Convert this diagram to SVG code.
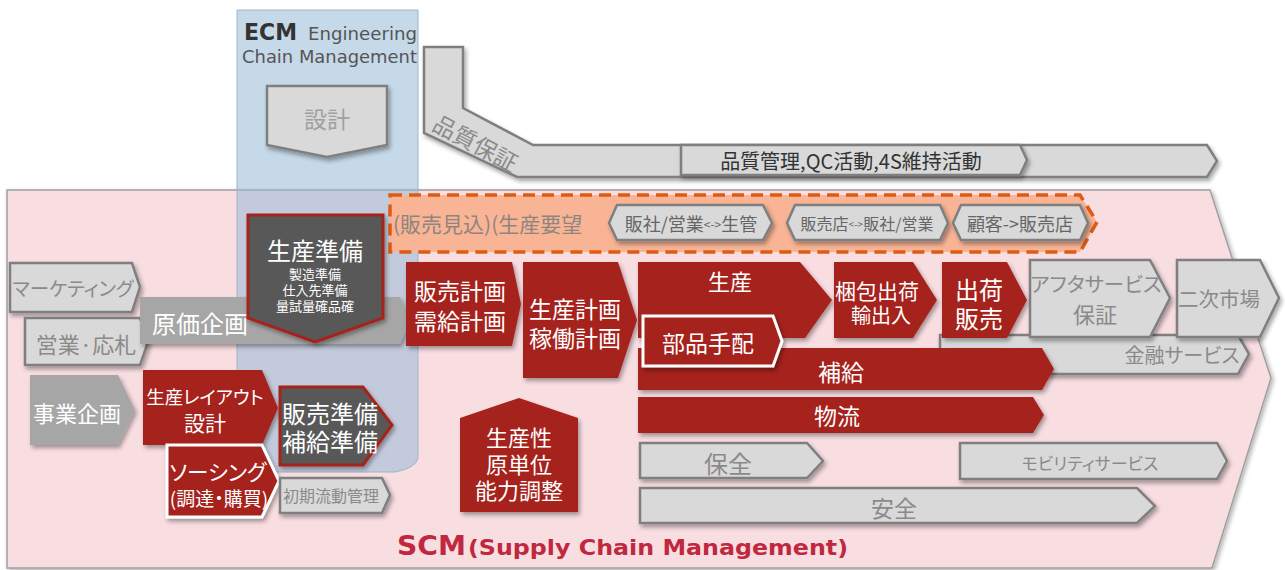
<svg xmlns="http://www.w3.org/2000/svg" width="1285" height="570" viewBox="0 0 1285 570">
<defs>
<filter id="sh" x="-10%" y="-20%" width="130%" height="150%"><feDropShadow dx="2" dy="3" stdDeviation="2" flood-color="#000" flood-opacity="0.35"/></filter>
<filter id="shs" x="-5%" y="-5%" width="110%" height="110%"><feDropShadow dx="2" dy="2" stdDeviation="2" flood-color="#000" flood-opacity="0.3"/></filter>
<style>
text{font-family:"Noto Sans CJK JP","Noto Sans",sans-serif;dominant-baseline:central;text-anchor:middle}
.p{font-feature-settings:"palt"}
.g{fill:#d9d9d9;stroke:#7f7f7f;stroke-width:2.5;filter:url(#sh)}
.m{fill:#a6a6a6;filter:url(#sh)}
.r{fill:#a6221a;filter:url(#sh)}
.rw{fill:#a6221a;stroke:#fff;stroke-width:3;filter:url(#sh)}
.dk{fill:#595959;stroke:#a6221a;stroke-width:3;filter:url(#sh)}
.tw{fill:#fff}
.tg{fill:#8a8a8a}
.td{fill:#333}
.lat{font-family:"DejaVu Sans",sans-serif;text-anchor:start;dominant-baseline:alphabetic}
</style>
</defs>
<g id="scm-bg"><polygon points="7,190 1210,190 1271,378 1212,568 7,568" fill="#f8dde1" stroke="#a0a0a0" stroke-width="1.5" filter="url(#shs)"/></g>
<g id="ecm-bg"><path d="M237,10 H418 V458 Q416,468 395,472 H237 Z" fill="rgb(151,186,215)" fill-opacity="0.55" stroke="#9fb4c8" stroke-width="1"/></g>
<g id="quality">
<polygon class="g" points="424,47 463,47 463,108 533,145 1207,145 1217,161 1207,177 517,177 424,133"/>
<text class="tg" x="476" y="142" font-size="23" transform="rotate(28 476 142)">品質保証</text>
</g>
<g id="qc">
<polygon class="g" points="681,145 1020,145 1027,160 1020,175 681,175"/>
<text class="td" x="851" y="160" font-size="20">品質管理,QC活動,4S維持活動</text>
</g>
<g id="sales-forecast">
<polygon points="390,195 1080,195 1097,222 1080,252 390,252" fill="#f8b495" stroke="#de5b12" stroke-width="3.5" stroke-dasharray="12 7"/>
<text x="393" y="223" font-size="21" fill="#8f8580" style="text-anchor:start">(販売見込)(生産要望</text>
</g>
<g id="tag1"><polygon class="g" points="609,223 617,205 763,205 772,223 763,240 617,240"/>
<text x="691" y="223" font-size="18" fill="#666">販社/営業<tspan font-size="12">&lt;-&gt;</tspan>生管</text></g>
<g id="tag2"><polygon class="g" points="787,223 795,205 940,205 948,223 940,240 795,240"/>
<text x="867" y="223" font-size="16" fill="#666">販売店<tspan font-size="10">&lt;-&gt;</tspan>販社/営業</text></g>
<g id="tag3"><polygon class="g" points="953,223 961,205 1080,205 1088,223 1080,240 961,240"/>
<text x="1020" y="223" font-size="18" fill="#666">顧客-&gt;販売店</text></g>
<g id="marketing"><polygon class="g" points="10,263 132,263 140,287 132,312 10,312"/>
<text class="tg p" x="73" y="287" font-size="19.5">マーケティング</text></g>
<g id="eigyo"><polygon class="g" points="25,318 140,318 148,342 140,365 25,365"/>
<text class="tg" x="86" y="343" font-size="22">営業·応札</text></g>
<g id="genka"><polygon class="m" points="140,297 400,297 411,320 400,344 140,344"/>
<text class="tw" x="200" y="322" font-size="24">原価企画</text></g>
<g id="seisan-junbi"><polygon class="dk" points="248,215 383,215 383,318 315,342 248,318"/>
<text class="tw" x="315" y="249" font-size="24">生産準備</text>
<text class="tw" x="315" y="273" font-size="13">製造準備</text>
<text class="tw" x="315" y="289" font-size="13">仕入先準備</text>
<text class="tw" x="315" y="305" font-size="13">量試量確品確</text></g>
<g id="jigyo"><polygon class="m" points="30,375 118,375 135,410 118,445 30,445"/>
<text class="tw" x="77" y="412" font-size="22">事業企画</text></g>
<g id="layout"><polygon class="r" points="143,370 262,370 278,408 262,445 143,445"/>
<text class="tw p" x="205" y="396" font-size="18.5">生産レイアウト</text>
<text class="tw" x="205" y="422" font-size="21">設計</text></g>
<g id="hanbai-junbi"><polygon class="dk" points="280,387 363,387 392,425 363,465 280,465"/>
<text class="tw" x="330" y="412" font-size="24">販売準備</text>
<text class="tw" x="330" y="440" font-size="24">補給準備</text></g>
<g id="sourcing"><polygon class="rw" points="167,445 262,445 279,481 262,517 167,517"/>
<text class="tw p" x="218" y="470" font-size="21.5">ソーシング</text>
<text class="tw p" x="219" y="497" font-size="19">(調達・購買)</text></g>
<g id="shoki"><polygon class="g" points="280,478 382,478 390,495 382,513 280,513"/>
<text class="tg" x="331" y="495" font-size="16">初期流動管理</text></g>
<g id="hanbai-keikaku"><polygon class="r" points="406,262 512,262 521,304 512,346 406,346"/>
<text class="tw" x="460" y="290" font-size="23">販売計画</text>
<text class="tw" x="460" y="320" font-size="23">需給計画</text></g>
<g id="seisan-keikaku"><polygon class="r" points="523,262 618,262 637,320 618,378 523,378"/>
<text class="tw" x="575" y="308" font-size="23">生産計画</text>
<text class="tw" x="575" y="337" font-size="23">稼働計画</text></g>
<g id="kinyu"><polygon class="g" points="940,335 1238,335 1249,354 1238,374 940,374"/>
<text class="tg p" x="1182" y="354" font-size="20">金融サービス</text></g>
<g id="seisan"><polygon class="r" points="638,262 800,262 832,300 805,338 638,338"/>
<text class="tw" x="730" y="280" font-size="22">生産</text></g>
<g id="hokyu"><polygon class="r" points="638,348 1042,348 1054,369 1042,390 638,390"/>
<text class="tw" x="841" y="371" font-size="23">補給</text></g>
<g id="buhin"><polygon class="rw" points="643,316 773,316 782,341 773,366 643,366"/>
<text class="tw" x="708" y="342" font-size="23">部品手配</text></g>
<g id="butsuryu"><polygon class="r" points="638,397 1033,397 1044,415 1033,433 638,433"/>
<text class="tw" x="837" y="415" font-size="23">物流</text></g>
<g id="konpo"><polygon class="r" points="834,262 913,262 937,300 913,338 834,338"/>
<text class="tw" x="877" y="290" font-size="21">梱包出荷</text>
<text class="tw" x="881" y="314" font-size="20">輸出入</text></g>
<g id="shukka"><polygon class="r" points="942,262 1007,262 1027,300 1007,338 942,338"/>
<text class="tw" x="979" y="288" font-size="24">出荷</text>
<text class="tw" x="979" y="317" font-size="24">販売</text></g>
<g id="after"><polygon class="g" points="1030,260 1150,260 1170,298 1150,337 1030,337"/>
<text class="tg p" x="1096" y="283" font-size="20.5">アフタサービス</text>
<text class="tg" x="1095" y="313" font-size="22">保証</text></g>
<g id="niji"><polygon class="g" points="1177,260 1260,260 1279,298 1260,337 1177,337"/>
<text class="tg" x="1219" y="298" font-size="20.5">二次市場</text></g>
<g id="hozen"><polygon class="g" points="640,443 807,443 823,461 807,478 640,478"/>
<text class="tg" x="728" y="462" font-size="24">保全</text></g>
<g id="mobility"><polygon class="g" points="960,443 1217,443 1227,461 1217,479 960,479"/>
<text class="tg p" x="1090" y="462" font-size="17">モビリティサービス</text></g>
<g id="anzen"><polygon class="g" points="640,488 1137,488 1155,506 1137,523 640,523"/>
<text class="tg" x="894" y="507" font-size="23">安全</text></g>
<g id="seisansei"><polygon class="r" points="460,418 519,398 578,418 578,512 460,512"/>
<text class="tw" x="519" y="436" font-size="22">生産性</text>
<text class="tw" x="519" y="463" font-size="22">原単位</text>
<text class="tw" x="519" y="489" font-size="22">能力調整</text></g>
<g id="sekkei"><polygon class="g" points="267,86 387,86 387,145 327,157 267,145" stroke-width="3"/>
<text x="327" y="118" font-size="23" fill="#a0a0a0">設計</text></g>
<g id="ecm-label">
<text class="lat" x="244" y="40" font-size="23" font-weight="bold" fill="#333" textLength="53" lengthAdjust="spacingAndGlyphs">ECM</text>
<text class="lat" x="308" y="40" font-size="17" fill="#555" textLength="109" lengthAdjust="spacingAndGlyphs">Engineering</text>
<text class="lat" x="242" y="63" font-size="17" fill="#555" textLength="175" lengthAdjust="spacingAndGlyphs">Chain Management</text>
</g>
<g id="scm-label">
<text class="lat" x="397" y="555" font-size="27" font-weight="bold" fill="#c0283f" textLength="69" lengthAdjust="spacingAndGlyphs">SCM</text>
<text class="lat" x="468" y="555" font-size="22" font-weight="bold" fill="#c0283f" textLength="380" lengthAdjust="spacingAndGlyphs">(Supply Chain Management)</text>
</g>
<g id="connectors"/>
</svg>
